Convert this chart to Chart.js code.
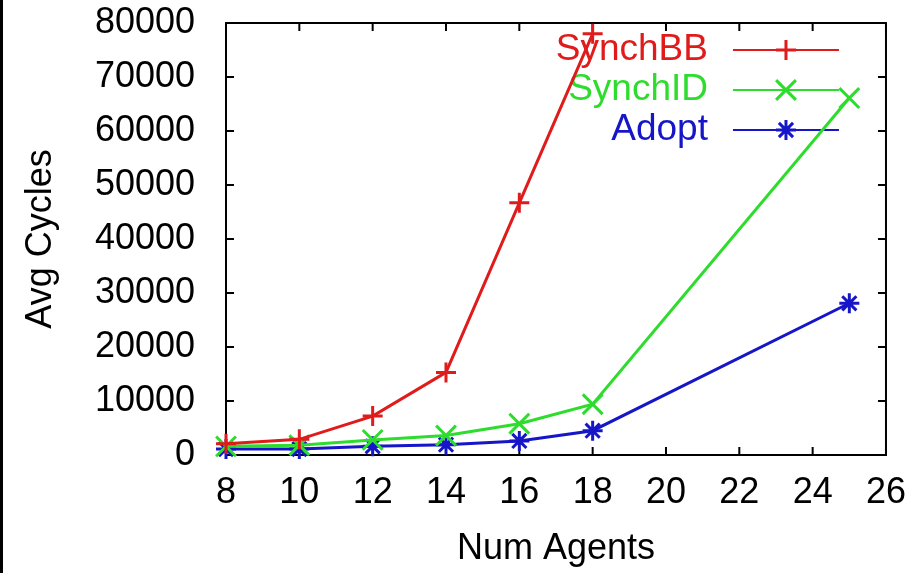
<!DOCTYPE html>
<html>
<head>
<meta charset="utf-8">
<script src="https://cdn.jsdelivr.net/npm/chart.js@4/dist/chart.umd.min.js"></script>
<style>
    html, body { margin: 0; padding: 0; background: #fff; }
    #wrap { position: relative; width: 922px; height: 573px; }
    #strip { position: absolute; left: 0; top: 0; width: 3px; height: 573px; background: #000; }
</style>
</head>
<body>
<div id="wrap">
    <canvas id="chart" width="922" height="573"></canvas>
    <div id="strip"></div>
</div>
<script>
// values
var numAgents = [8, 10, 12, 14, 16, 18, 25];
var synchBB = [2100, 2900, 7200, 15300, 46700, 78000];   // stops at 18 agents
var synchID = [1600, 1800, 2800, 3600, 5800, 9400, 66100];
var adopt = [1100, 1100, 1600, 1900, 2600, 4500, 28100];

var seriesNames = ['SynchBB', 'SynchID', 'Adopt'];
var seriesColors = ['#e01b1b', '#2edc2e', '#1616c8'];
var seriesMarks = ['cross', 'crossRot', 'star'];

var FONT = '"Liberation Sans", Arial, Helvetica, sans-serif';

function toPoints(vals) {
    return vals.map((v, i) => ({ x: numAgents[i], y: v }));
}

// gnuplot style box with inward ticks on all four sides, plus the key
var framePlugin = {
    id: 'frame',
    beforeDatasetsDraw(chart) {
        var ctx = chart.ctx;
        var a = chart.chartArea;
        var xs = chart.scales.x, ys = chart.scales.y;
        var tl = 8;
        ctx.save();
        ctx.strokeStyle = '#000';
        ctx.lineWidth = 2;
        ctx.strokeRect(a.left, a.top, a.right - a.left, a.bottom - a.top);
        ctx.beginPath();
        xs.ticks.forEach(t => {
            var px = xs.getPixelForValue(t.value);
            ctx.moveTo(px, a.bottom); ctx.lineTo(px, a.bottom - tl);
            ctx.moveTo(px, a.top); ctx.lineTo(px, a.top + tl);
        });
        ys.ticks.forEach(t => {
            var py = ys.getPixelForValue(t.value);
            ctx.moveTo(a.left, py); ctx.lineTo(a.left + tl, py);
            ctx.moveTo(a.right, py); ctx.lineTo(a.right - tl, py);
        });
        ctx.stroke();

        // key: text right aligned, then sample line with the marker
        var textRight = a.right - 178;
        var lineStart = a.right - 153, lineEnd = a.right - 47;
        ctx.font = '37px ' + FONT;
        ctx.textAlign = 'right';
        ctx.textBaseline = 'middle';
        chart.data.datasets.forEach((ds, i) => {
            var y = a.top + 27 + i * 40;
            ctx.fillStyle = ds.borderColor;
            ctx.fillText(ds.label, textRight, y);
            ctx.strokeStyle = ds.borderColor;
            ctx.lineWidth = 2;
            ctx.beginPath();
            ctx.moveTo(lineStart, y); ctx.lineTo(lineEnd, y);
            ctx.stroke();
            ctx.lineWidth = 3;
            Chart.helpers.drawPoint(ctx, {
                pointStyle: ds.pointStyle, radius: ds.pointRadius, rotation: 0, borderWidth: 3
            }, (lineStart + lineEnd) / 2, y);
        });
        ctx.restore();
    }
};

var datasets = [synchBB, synchID, adopt].map((vals, i) => ({
    label: seriesNames[i],
    data: toPoints(vals),
    borderColor: seriesColors[i],
    backgroundColor: seriesColors[i],
    borderWidth: 3,
    pointStyle: seriesMarks[i],
    pointRadius: i === 1 ? 14 : 10,
    pointBorderWidth: 3,
    tension: 0,
    clip: false
}));

new Chart(document.getElementById('chart').getContext('2d'), {
    type: 'line',
    data: { datasets: datasets },
    options: {
        responsive: false,
        animation: false,
        layout: { padding: { top: 23, right: 32, left: 0, bottom: 0 } },
        plugins: {
            legend: { display: false },
            tooltip: { enabled: false }
        },
        scales: {
            x: {
                type: 'linear',
                min: 8,
                max: 26,
                border: { display: false },
                grid: { display: false, drawTicks: false },
                ticks: { stepSize: 2, color: '#000', padding: 16, font: { family: FONT, size: 36 } },
                title: { display: true, text: 'Num Agents', color: '#000', padding: { top: 2, bottom: 2 }, font: { family: FONT, size: 36 } },
                afterFit: s => { s.height = 118; }
            },
            y: {
                min: 0,
                max: 80000,
                border: { display: false },
                grid: { display: false, drawTicks: false },
                ticks: {
                    stepSize: 10000, color: '#000', padding: 31, font: { family: FONT, size: 36 },
                    callback: v => String(v)
                },
                title: { display: true, text: 'Avg Cycles', color: '#000', padding: { top: 19, bottom: 0 }, font: { family: FONT, size: 36 } },
                afterFit: s => { s.width = 226; s.paddingTop = 20; s.paddingBottom = 20; }
            }
        }
    },
    plugins: [framePlugin]
});
</script>
</body>
</html>
